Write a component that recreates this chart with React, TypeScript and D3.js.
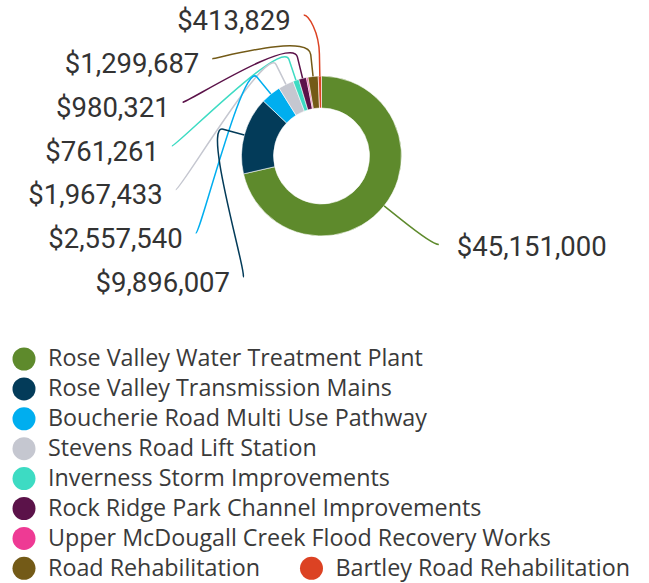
import * as d3 from "d3";
import React from "react";

const categories = [
  "Rose Valley Water Treatment Plant",
  "Rose Valley Transmission Mains",
  "Boucherie Road Multi Use Pathway",
  "Stevens Road Lift Station",
  "Inverness Storm Improvements",
  "Rock Ridge Park Channel Improvements",
  "Upper McDougall Creek Flood Recovery Works",
  "Road Rehabilitation",
  "Bartley Road Rehabilitation",
];
const values = [45151000, 9896007, 2557540, 1967433, 761261, 980321, 200000, 1299687, 413829];
const colors = [
  "#5e8a2c",
  "#033b59",
  "#00aeef",
  "#c5c7d0",
  "#3ddbc3",
  "#5b1249",
  "#ee3a94",
  "#735a17",
  "#dc4223",
];

const W = 649;
const H = 583;

export default function App() {
  const ref = React.useRef<SVGSVGElement>(null);

  React.useEffect(() => {
    const svg = d3.select(ref.current);
    svg.selectAll("*").remove();

    const cx = 321.5;
    const cy = 156;
    const outerR = 80;
    const innerR = 48;
    // ellipse on which the connector ends sit
    const rx = 150;
    const ry = 142;

    const data = categories.map((name, i) => ({ name, value: values[i], color: colors[i] }));
    const total = d3.sum(values);

    const pie = d3
      .pie<any>()
      .sort(null)
      .value((d) => d.value);
    const arcs = pie(data);
    const arc = d3.arc<any>().innerRadius(innerR).outerRadius(outerR);

    const g = svg.append("g").attr("transform", `translate(${cx},${cy})`);
    g.selectAll("path")
      .data(arcs)
      .enter()
      .append("path")
      .attr("d", arc)
      .attr("fill", (d) => d.data.color)
      .attr("stroke", "#fff")
      .attr("stroke-width", 0.6);

    // labels (skip tiny slices)
    const shown = arcs
      .filter((d) => d.value / total > 0.005)
      .map((d) => ({ ...d, mid: (d.startAngle + d.endAngle) / 2 }));
    const left = shown.filter((d) => d.mid > Math.PI).sort((a, b) => b.mid - a.mid);
    const right = shown.filter((d) => d.mid <= Math.PI);

    const yScale = d3
      .scaleLinear()
      .domain([0, Math.max(1, left.length - 1)])
      .range([-141, 121]);

    const labels: any[] = [];
    left.forEach((d, i) => {
      const y = yScale(i);
      const x = -rx * Math.sqrt(Math.max(0, 1 - (y / ry) ** 2));
      labels.push({ d, x, y, side: "left" });
    });
    right.forEach((d) => {
      labels.push({ d, x: rx * Math.sin(d.mid), y: -ry * Math.cos(d.mid), side: "right" });
    });

    const fmt = d3.format("$,");
    labels.forEach((l) => {
      const a = l.d.mid;
      const tx = outerR * Math.sin(a);
      const ty = -outerR * Math.cos(a);
      const bx = (outerR + 22) * Math.sin(a);
      const by = -(outerR + 22) * Math.cos(a);
      const c1x = l.x + (l.side === "left" ? 5 : -5);
      const path = `M${l.x},${l.y}C${c1x},${l.y} ${2 * bx - tx},${2 * by - ty} ${bx},${by}L${tx},${ty}`;
      g.append("path")
        .attr("d", path)
        .attr("fill", "none")
        .attr("stroke", l.d.data.color)
        .attr("stroke-width", 1.5);
      g.append("text")
        .attr("x", l.side === "left" ? l.x - 13 : l.x + 18)
        .attr("y", l.y + (l.side === "left" ? 5 : 2))
        .attr("dy", "0.35em")
        .attr("text-anchor", l.side === "left" ? "end" : "start")
        .style("font-family", "Roboto, sans-serif")
        .style("font-size", "27.5px")
        .attr("fill", "#333")
        .text(fmt(l.d.value));
    });

    // legend
    const legend = svg.append("g");
    const startX = 12.5;
    const maxX = W - 10;
    const rowH = 29.9;
    let x = startX;
    let row = 0;
    data.forEach((d) => {
      const item = legend.append("g");
      item
        .append("circle")
        .attr("cx", 11.5)
        .attr("cy", 0)
        .attr("r", 11.5)
        .attr("fill", d.color);
      const t = item
        .append("text")
        .attr("x", 35.5)
        .attr("y", 0)
        .attr("dy", "0.32em")
        .style("font-family", "'Open Sans', sans-serif")
        .style("font-size", "23.3px")
        .attr("fill", "#3a3a3a")
        .text(d.name);
      const w = 35.5 + (t.node() as SVGTextElement).getComputedTextLength();
      if (x > startX && x + w > maxX) {
        x = startX;
        row += 1;
      }
      item.attr("transform", `translate(${x},${359 + row * rowH})`);
      x += w + 40;
    });
  }, []);

  return (
    <svg
      ref={ref}
      width={W}
      height={H}
      style={{ position: "absolute", left: 0, top: 0, background: "#fff" }}
    ></svg>
  );
}
